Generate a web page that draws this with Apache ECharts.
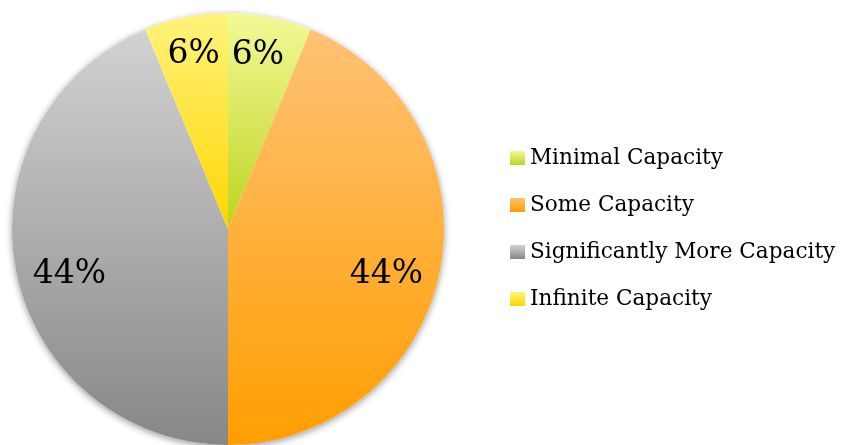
<!DOCTYPE html>
<html>
<head>
<meta charset="utf-8">
<script src="https://cdn.jsdelivr.net/npm/echarts@6/dist/echarts.min.js"></script>
<style>
  html, body { margin: 0; padding: 0; background: #fff; }
  #chart { width: 842px; height: 445px; }
</style>
</head>
<body>
<div id="chart"></div>
<script>
// Share of respondents per capacity level (percent)
const categories = ['Minimal Capacity', 'Some Capacity', 'Significantly More Capacity', 'Infinite Capacity'];
const shares = [6.25, 43.75, 43.75, 6.25];
const labels = ['6%', '44%', '44%', '6%'];

// Vertical gradient per slice: [top, bottom]
const gradients = [
  ['#F3FA98', '#BCD31E'],
  ['#FFC275', '#FF9E00'],
  ['#D2D2D2', '#878787'],
  ['#FFF37C', '#FFD600']
];
// Where each value label sits: fraction of radius, and angle (deg, clockwise from 12 o'clock)
const labelReach = [0.80, 0.75, 0.75, 0.81];
const labelAngle = [9.8, 106.2, 253.9, 348.9];

const CX = 228, CY = 229, R = 216;

function grad(c) {
  return new echarts.graphic.LinearGradient(0, 0, 0, 1, [
    { offset: 0, color: c[0] },
    { offset: 1, color: c[1] }
  ]);
}

const total = shares.reduce((a, b) => a + b, 0);
// mid angle of each slice, clockwise from 12 o'clock (radians)
const midAngles = [];
let acc = 0;
shares.forEach(v => {
  midAngles.push(((acc + v / 2) / total) * 2 * Math.PI);
  acc += v;
});

const chart = echarts.init(document.getElementById('chart'), null, { renderer: 'canvas' });
chart.setOption({
  animation: false,
  legend: {
    orient: 'vertical',
    left: 505,
    top: 142,
    itemWidth: 15,
    itemHeight: 14,
    itemGap: 25,
    icon: 'rect',
    textStyle: { fontFamily: 'DejaVu Serif', fontSize: 21.6, lineHeight: 22, color: '#000' },
    data: categories
  },
  series: [
    {
      // soft drop shadow under the disc
      type: 'pie',
      silent: true,
      center: [CX, CY],
      radius: [0, R],
      z: 1,
      label: { show: false },
      labelLine: { show: false },
      itemStyle: {
        color: '#fff',
        shadowBlur: 7,
        shadowColor: 'rgba(0,0,0,0.4)',
        shadowOffsetY: 2
      },
      data: [{ value: 1, name: '' }],
      legendHoverLink: false
    },
    {
      type: 'pie',
      center: [CX, CY],
      radius: [0, R],
      startAngle: 90,
      clockwise: true,
      z: 2,
      avoidLabelOverlap: false,
      data: categories.map((name, i) => ({
        name,
        value: shares[i],
        itemStyle: { color: grad(gradients[i]) }
      })),
      itemStyle: { borderWidth: 0 },
      label: {
        show: true,
        position: 'inside',
        formatter: p => labels[p.dataIndex],
        fontFamily: 'DejaVu Serif',
        fontSize: 33,
        color: '#000'
      },
      labelLine: { show: false },
      labelLayout: p => {
        // move each label from the default mid-radius spot to its own spot
        const i = p.dataIndex;
        const a0 = midAngles[i];
        const a1 = labelAngle[i] * Math.PI / 180;
        const r0 = 0.5 * R, r1 = labelReach[i] * R;
        return {
          dx: Math.sin(a1) * r1 - Math.sin(a0) * r0,
          dy: -Math.cos(a1) * r1 + Math.cos(a0) * r0
        };
      }
    }
  ]
});
</script>
</body>
</html>
